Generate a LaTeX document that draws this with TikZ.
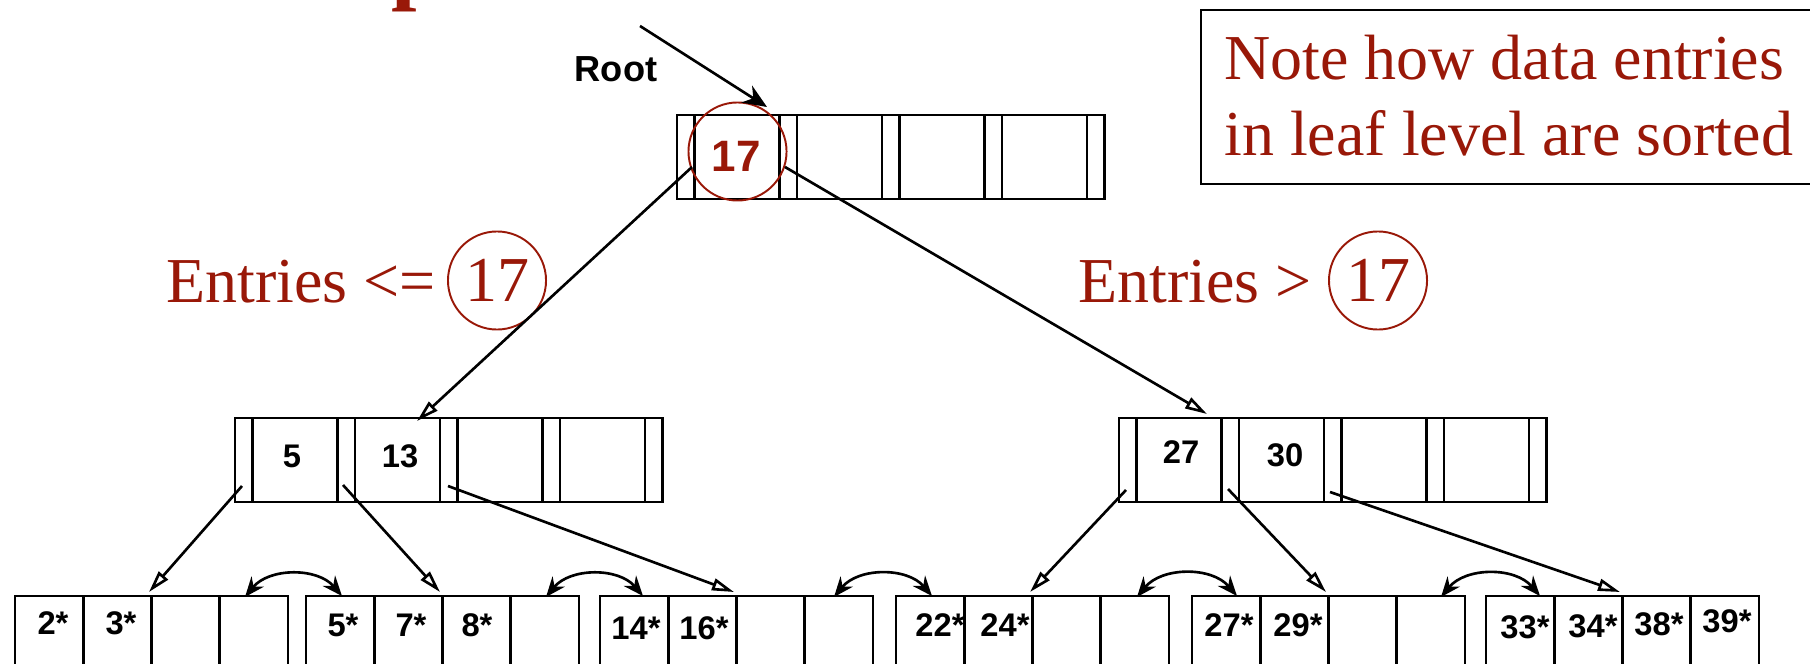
\documentclass[tikz,border=0pt]{standalone}
\usepackage{fontspec}
\setmainfont{Liberation Serif}
\setsansfont{Liberation Sans}
\usetikzlibrary{arrows.meta}
\definecolor{btred}{RGB}{153,24,8}
\begin{document}
\begin{tikzpicture}[x=0.01cm,y=-0.01cm,line width=0.75pt,
    key/.style={inner sep=0pt,font=\sffamily\bfseries\fontsize{9.3}{11}\selectfont},
    say/.style={inner sep=0pt,text=btred,font=\fontsize{18.2}{22}\selectfont},
    ring/.style={circle,draw=btred,line width=0.55pt,inner sep=0pt,minimum size=0.98cm},
    ptr/.style={-{Triangle[open,length=2.2mm,width=1.2mm]}},
    sib/.style={{Stealth[length=2mm,width=1.6mm]}-{Stealth[length=2mm,width=1.6mm]}}]
  \useasboundingbox (0,0) rectangle (1810,664);
  \clip (0,0) rectangle (1810,664);
  \node[inner sep=0pt,text=btred,font=\bfseries\fontsize{26}{30}\selectfont,anchor=base west] (ttl) at (390,-7) {p};
  \foreach \nd/\x/\y in {root/677/115,lft/235/418,rgt/1119/418}{
    \draw (\x,\y) rectangle ++(427.5,84);
    \foreach \d in {17.5,102.5,120,205,222.5,307.5,325,410} \draw (\x+\d,\y) -- ++(0,84);
  }
  \foreach \lf/\x in {1/15,2/306,3/600,4/896,5/1192,6/1486}{
    \draw (\x,596) rectangle ++(273,100);
    \foreach \d in {68.25,136.5,204.75} \draw (\x+\d,596) -- ++(0,100);
    \coordinate (leaf\lf) at (\x+134,592);
  }
  \node[key,text=btred,font=\sffamily\bfseries\fontsize{12.5}{14}\selectfont] (k17) at (736,156) {17};
  \draw[btred,line width=0.55pt] (737.5,151.5) circle (0.49cm);
  \node[key] (k5) at (292,456) {5};
  \node[key] (k13) at (400,456) {13};
  \node[key] (k27) at (1181,452) {27};
  \node[key] (k30) at (1285,455) {30};
  \foreach \v/\x/\y [count=\n] in {2*/53/623,3*/121/623,5*/343/625,7*/411/625,8*/477/625,14*/636/628,16*/704/628,22*/940/625,24*/1005/625,27*/1229/625,29*/1298/625,33*/1525/627,34*/1593/626,38*/1659/624,39*/1727/621}
    \node[key] (ent\n) at (\x,\y) {\v};
  \node[key,font=\sffamily\bfseries\fontsize{10.3}{12}\selectfont,anchor=base] (rootlbl) at (616,82) {Root};
  \coordinate (rtail) at (640,26);
  \coordinate (rtip) at (767,107);
  \draw[-{Stealth[length=2.4mm,width=2mm]}] (rtail) -- (rtip);
  \node[say,anchor=base west] (le) at (165,302) {Entries <=};
  \node[say,ring] (lcirc) at (497,280.5) {17};
  \node[say,anchor=base west] (gt) at (1077,302) {Entries >};
  \node[say,ring] (rcirc) at (1378,280.5) {17};
  \node[say,anchor=base west] (nt1) at (1223,80) {Note how data entries};
  \node[say,anchor=base west] (nt2) at (1223,156) {in leaf level are sorted};
  \draw (1201,10) rectangle (1840,184);
  \coordinate (r0) at (692,167);
  \coordinate (r1) at (785,167);
  \coordinate (lftin) at (417,421);
  \coordinate (rgtin) at (1207,414);
  \coordinate (l0) at (242,486);
  \coordinate (l1) at (343,485);
  \coordinate (l2) at (448,486);
  \coordinate (g0) at (1126,490);
  \coordinate (g1) at (1228,489);
  \coordinate (g2) at (1330,492);
  \draw[ptr] (r0) -- (lftin);
  \draw[ptr] (r1) -- (rgtin);
  \draw[ptr] (l0) -- (leaf1);
  \draw[ptr] (l1) -- (leaf2);
  \draw[ptr] (l2) -- (leaf3);
  \draw[ptr] (g0) -- (leaf4);
  \draw[ptr] (g1) -- (leaf5);
  \draw[ptr] (g2) -- (leaf6);
  \foreach \s/\a/\b in {1/245/342,2/546/643,3/834/932,4/1137/1237,5/1441/1540}{
    \coordinate (nx\s) at (\a,597);
    \coordinate (pv\s) at (\b,596);
    \draw[sib] (nx\s) to[bend left=50] (pv\s);
  }
\end{tikzpicture}
\end{document}
